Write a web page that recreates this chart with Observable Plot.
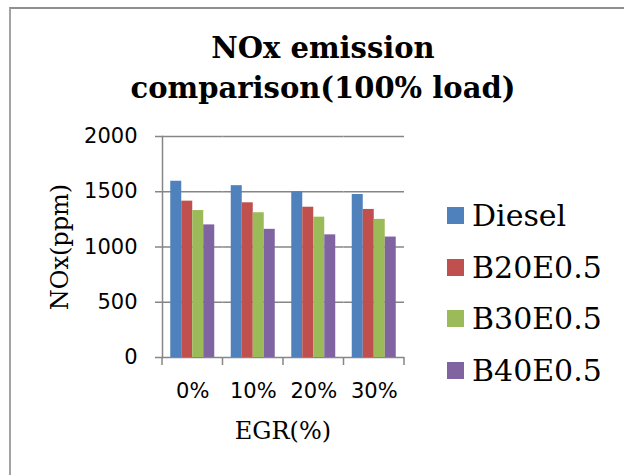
<!DOCTYPE html>
<html>
<head>
<meta charset="utf-8">
<script src="https://cdn.jsdelivr.net/npm/d3@7"></script>
<script src="https://cdn.jsdelivr.net/npm/@observablehq/plot@0.6"></script>
<style>
  html, body { margin: 0; padding: 0; background: #fff; }
  #page { position: relative; width: 624px; height: 475px; overflow: hidden; background: #fff; }
  #border { position: absolute; left: 9px; top: 7px; width: 640px; height: 500px;
            border-top: 2px solid #8f8f8f; border-left: 2px solid #a3a3a3; }
  #title { position: absolute; left: 23px; width: 600px; top: 28px; text-align: center;
           font-family: "DejaVu Serif", serif; font-weight: bold; font-size: 29px; line-height: 40px;
           white-space: nowrap; color: #000; }
  #chart { position: absolute; left: 0; top: 0; }
  .axtitle { position: absolute; font-family: "DejaVu Serif", serif; font-size: 24px; line-height: 24px;
             white-space: nowrap; text-align: center; color: #000; }
  #legend { position: absolute; left: 447px; top: 190px; font-family: "DejaVu Serif", serif; font-size: 30px; color: #000; }
  .row { display: flex; align-items: center; height: 51.5px; white-space: nowrap; }
  .sw { width: 17px; height: 17px; margin-right: 8px; flex: none; }
</style>
</head>
<body>
<div id="page">
  <div id="border"></div>
  <div id="chart"></div>
  <div id="title">NOx emission<br>comparison(100% load)</div>
  <div class="axtitle" id="ytitle" style="left:-40px; top:235px; width:200px; transform: rotate(-90deg);">NOx(ppm)</div>
  <div class="axtitle" id="xtitle" style="left:183px; top:419px; width:200px;">EGR(%)</div>
  <div id="legend"></div>
</div>
<script>
// ---- data ----
const categories = ["0%", "10%", "20%", "30%"];
const seriesNames = ["Diesel", "B20E0.5", "B30E0.5", "B40E0.5"];
const diesel = [1595, 1555, 1500, 1475];
const b20 = [1415, 1400, 1360, 1340];
const b30 = [1330, 1310, 1270, 1250];
const b40 = [1200, 1160, 1110, 1090];
const yTicks = [0, 500, 1000, 1500, 2000];
const colors = ["#4F81BD", "#C0504D", "#9BBB59", "#8064A2"];

const seriesValues = [diesel, b20, b30, b40];
const table = [];
seriesNames.forEach((s, i) => {
  categories.forEach((c, j) => table.push({egr: c, series: s, value: seriesValues[i][j]}));
});

const gray = "#868686";

const chart = Plot.plot({
  width: 624,
  height: 475,
  marginLeft: 162,
  marginRight: 220,
  marginTop: 136,
  marginBottom: 118,
  style: {fontFamily: "DejaVu Sans, sans-serif", fontSize: "21px", background: "transparent", color: "#000", overflow: "visible"},
  fx: {domain: categories, padding: 0, round: false, label: null},
  x: {domain: seriesNames, paddingInner: 0, paddingOuter: 0.75, round: false, axis: null},
  y: {domain: [0, 2000], label: null},
  color: {domain: seriesNames, range: colors},
  marks: [
    Plot.ruleY(yTicks, {stroke: gray, strokeWidth: 1.5}),
    Plot.barY(table, {fx: "egr", x: "series", y: "value", fill: "series"}),
    Plot.axisY({ticks: yTicks, tickSize: 7, tickPadding: 18, stroke: gray, strokeWidth: 1.5, label: null, tickFormat: d => String(d)}),
    Plot.axisFx({anchor: "bottom", tickSize: 0, tickPadding: 26, label: null}),
    Plot.frame({anchor: "left", facetAnchor: "left", stroke: gray, strokeWidth: 1.5})
  ]
});
document.getElementById("chart").appendChild(chart);

// category boundary ticks below the x axis, from the library's fx scale
const fx = chart.scale("fx");
const y0 = chart.scale("y").apply(0);
const bounds = categories.map(c => fx.apply(c)).concat([fx.apply(categories[categories.length - 1]) + fx.bandwidth]);
d3.select(chart).append("g")
  .selectAll("line").data(bounds).join("line")
  .attr("x1", d => d).attr("x2", d => d)
  .attr("y1", y0).attr("y2", y0 + 8)
  .attr("stroke", gray).attr("stroke-width", 1.5);

// legend
const legend = d3.select("#legend");
seriesNames.forEach((s, i) => {
  const row = legend.append("div").attr("class", "row");
  row.append("div").attr("class", "sw").style("background", colors[i]);
  row.append("span").text(s);
});
</script>
</body>
</html>
